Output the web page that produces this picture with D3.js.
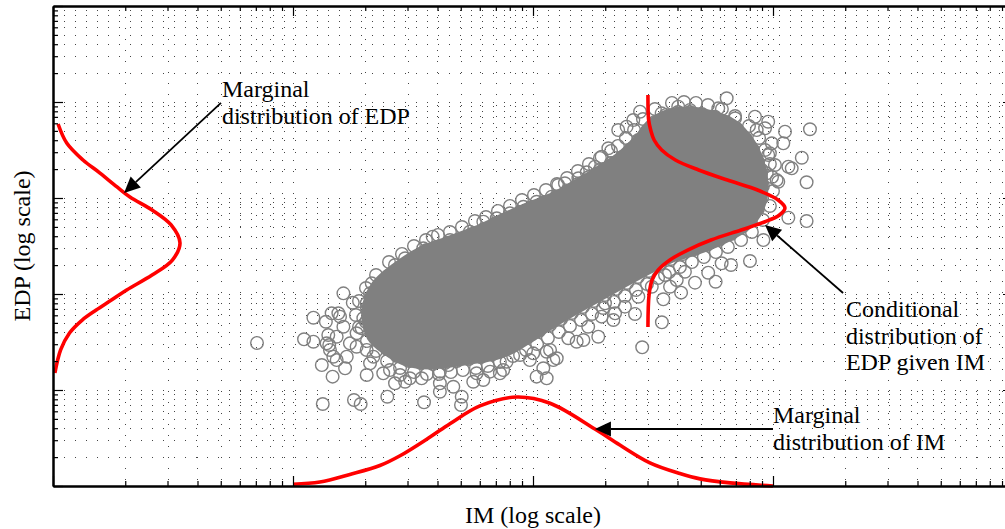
<!DOCTYPE html>
<html>
<head>
<meta charset="utf-8">
<script src="https://cdn.jsdelivr.net/npm/d3@7"></script>
<style>
  html, body { margin: 0; padding: 0; background: #fff; }
  svg { display: block; }
  text { font-family: "Liberation Serif", "Times New Roman", serif; font-size: 24px; fill: #000; }
</style>
</head>
<body>
<svg id="chart" width="1005" height="529"></svg>
<script>
// ---- Axis extents -------------------------------------------------------
const imDomain = [1e-3, 1e1];
const edpDomain = [1e-4, 1e1];

// ---- Simulated (IM, EDP) samples, log10 units --------------------------
// outer, isolated samples
const sampleLogIM = [
  -2.150, -1.790, -1.751, -1.915, -1.863, -1.811, -1.839, -1.804, -1.954, -1.915,
  -1.853, -1.849, -1.832, -1.880, -1.835, -1.783, -1.693, -1.624, -1.575, -1.533,
  -1.464, -1.388, -1.332, -1.297, -1.388, -1.249, -1.207, -1.138, -0.985, -0.943,
  -0.915, -1.876, -1.746, -1.718, -1.607, -1.454, -1.300, -0.957, -0.943, -1.513,
  -1.554, -1.596, -1.679, -1.693, -1.735, -1.776, -1.818, -1.846, -1.763, -1.735,
  -1.790, -1.818, -1.860, -1.714, -1.665, -1.388, -1.353, -1.235, -1.179, -1.110,
  -1.054, -0.999, -0.929, -1.013, -1.124, -1.533, -1.575, -1.672, -1.638, -1.679,
  -1.693, -1.707, -1.471, -1.443, -1.418, -1.346, -1.207, -1.151, -1.096, -1.040,
  -0.985, -0.922, -1.263, -1.457, -0.545, -0.463, -0.728, -0.575, -0.457, -0.383,
  -0.325, -0.239, -0.270, -0.175, -0.096, -0.214, -0.665, -0.658, -0.818, -0.853,
  -0.790, -0.617, -0.429, -0.401, -0.367, -0.193,  0.154,  0.120,  0.140,  0.140,
   0.064, -0.040, -0.103,  0.050,  0.043,  0.064,  0.022, -0.645, -0.610, -0.561,
  -0.686, -0.714, -0.742, -0.776, -0.811, -0.867, -0.895, -0.464, -0.395, -0.346,
  -0.228, -0.242, -0.158, -0.075, -0.020, -0.033, -0.005, -0.020,  0.008, -0.047,
  -0.075, -0.554, -0.582,  0.078, -0.013, -0.026,  0.015, -0.068, -0.901, -0.770,
  -0.714, -0.700, -0.561, -0.505, -0.450,
  // samples crowding the edge of the dense centre
  -1.696, -1.692, -1.671, -1.646, -1.604, -1.554, -1.504, -1.454, -1.404, -1.354,
  -1.304, -1.254, -1.204, -1.154, -1.104, -1.054, -1.004, -0.954, -0.904, -0.858,
  -0.813, -0.767, -0.721, -0.675, -0.629, -0.592, -0.554, -0.525, -0.492, -0.446,
  -0.396, -0.346, -0.296, -0.246, -0.196, -0.150, -0.113, -0.083, -0.063, -0.050,
  -0.042, -0.046, -0.063, -0.092, -0.129, -0.175, -0.225, -0.275, -0.325, -0.375,
  -0.425, -0.471, -0.517, -0.563, -0.608, -0.654, -0.700, -0.746, -0.792, -0.838,
  -0.883, -0.929, -0.975, -1.021, -1.067, -1.117, -1.167, -1.217, -1.267, -1.317,
  -1.367, -1.417, -1.467, -1.517, -1.567, -1.608, -1.642, -1.671,
  // samples just outside that edge
  -1.600, -1.546, -1.496, -1.446, -1.396, -1.346, -1.296, -1.242, -1.196, -1.146,
  -1.096, -1.046, -0.996, -0.946, -0.900, -0.858, -0.813, -0.767, -0.721, -0.675,
  -0.646, -0.613, -0.579, -0.542, -0.492, -0.421, -0.371, -0.321, -0.271, -0.213,
  -0.158, -0.100, -0.058, -0.033, -0.013, -0.004,  0.000, -0.013, -0.042, -0.088,
  -0.133, -0.188, -0.238, -0.288, -0.338, -0.388, -0.433, -0.479, -0.525, -0.571,
  -0.617, -0.663, -0.708, -0.754, -0.800, -0.846, -0.892, -0.938, -0.983, -1.029,
  -1.083, -1.138, -1.188, -1.238, -1.292, -1.342, -1.392, -1.442, -1.496, -1.554,
  -1.608, -1.654, -1.692, -1.725, -1.738, -1.725, -1.696, -1.654
];
const sampleLogEDP = [
  -2.510, -1.993, -2.091, -2.247, -2.289, -2.201, -2.201, -2.236, -2.472, -2.497,
  -2.427, -2.531, -2.653, -2.740, -2.861, -2.774, -2.844, -2.826, -2.930, -2.914,
  -2.878, -2.930, -2.966, -3.070, -3.018, -2.914, -2.896, -2.826, -2.861, -2.878,
  -2.688, -3.146, -3.104, -3.146, -3.070, -3.128, -3.156, -2.774, -2.601, -2.878,
  -2.844, -2.792, -2.722, -2.583, -2.549, -2.653, -2.688, -2.583, -2.514, -2.409,
  -2.341, -2.445, -2.514, -2.357, -2.653, -2.809, -2.740, -2.826, -2.809, -2.705,
  -2.635, -2.618, -2.583, -2.688, -2.792, -1.628, -1.698, -1.889, -1.924, -1.993,
  -2.097, -2.253, -1.594, -1.542, -1.403, -1.438, -1.247, -1.211, -1.159, -1.091,
  -1.039, -0.986, -1.351, -1.524, -2.555, -2.295, -2.445, -2.208, -2.055, -1.986,
  -1.882, -1.872, -1.778, -1.698, -1.656, -1.680, -2.271, -2.201, -2.497, -2.461,
  -2.479, -2.132, -1.924, -1.854, -1.768,  0.039, -0.284, -0.580, -0.836, -1.240,
  -1.205, -1.438, -1.211, -0.309, -0.430, -0.674, -0.830, -0.292, -0.257, -0.396,
  -0.482, -0.570, -0.674, -0.732, -0.795, -0.847, -0.865, -0.118, -0.049, -0.083,
  -0.066, -0.153, -0.170, -0.153, -0.205, -0.274, -0.430, -0.552, -0.656, -0.708,
  -0.865, -0.101, -0.188, -0.691, -0.534, -0.743, -0.813, -0.292, -2.670, -2.341,
  -2.236, -2.097, -2.028, -1.924, -1.802,
  -2.292, -2.146, -2.021, -1.917, -1.813, -1.729, -1.646, -1.563, -1.510, -1.469,
  -1.427, -1.375, -1.323, -1.260, -1.208, -1.146, -1.094, -1.042, -0.990, -0.927,
  -0.854, -0.781, -0.708, -0.635, -0.573, -0.490, -0.396, -0.302, -0.208, -0.135,
  -0.104, -0.104, -0.125, -0.156, -0.208, -0.281, -0.385, -0.500, -0.625, -0.750,
  -0.875, -1.000, -1.115, -1.219, -1.302, -1.375, -1.438, -1.490, -1.531, -1.583,
  -1.635, -1.698, -1.760, -1.823, -1.885, -1.948, -2.010, -2.073, -2.135, -2.198,
  -2.260, -2.323, -2.385, -2.448, -2.510, -2.573, -2.625, -2.656, -2.677, -2.698,
  -2.719, -2.729, -2.719, -2.698, -2.646, -2.573, -2.490, -2.396,
  -1.667, -1.583, -1.500, -1.438, -1.385, -1.354, -1.302, -1.240, -1.198, -1.135,
  -1.083, -1.021, -0.969, -0.917, -0.854, -0.792, -0.719, -0.646, -0.583, -0.510,
  -0.458, -0.375, -0.292, -0.177, -0.073, -0.010,  0.000, -0.010, -0.031, -0.073,
  -0.146, -0.250, -0.375, -0.500, -0.646, -0.781, -0.927, -1.083, -1.229, -1.354,
  -1.438, -1.510, -1.563, -1.615, -1.667, -1.719, -1.771, -1.833, -1.896, -1.958,
  -2.021, -2.083, -2.146, -2.208, -2.271, -2.333, -2.396, -2.458, -2.521, -2.583,
  -2.646, -2.708, -2.750, -2.771, -2.792, -2.813, -2.833, -2.833, -2.813, -2.771,
  -2.698, -2.594, -2.490, -2.344, -2.219, -2.073, -1.938, -1.802
];

// Outline of the dense centre of the sample cloud, log10 units
const coreLogIM = [
  -1.688, -1.679, -1.638, -1.575, -1.458, -1.358, -1.233, -1.108, -1.013, -0.908,
  -0.825, -0.729, -0.629, -0.563, -0.504, -0.442, -0.354, -0.254, -0.171, -0.104,
  -0.063, -0.046, -0.063, -0.117, -0.213, -0.325, -0.421, -0.521, -0.629, -0.771,
  -0.908, -1.013, -1.096, -1.179, -1.263, -1.346, -1.429, -1.525, -1.608, -1.667
];
const coreLogEDP = [
  -2.240, -2.063, -1.885, -1.750, -1.563, -1.469, -1.354, -1.208, -1.104, -1.000,
  -0.885, -0.740, -0.573, -0.417, -0.240, -0.146, -0.115, -0.156, -0.240, -0.417,
  -0.625, -0.865, -1.104, -1.281, -1.417, -1.531, -1.604, -1.729, -1.875, -2.073,
  -2.271, -2.438, -2.563, -2.635, -2.667, -2.698, -2.719, -2.688, -2.573, -2.438
];

// ---- Marginal distribution of IM (relative density) ---------------------
const imMargLogIM = [-2.000, -1.888, -1.763, -1.638, -1.554, -1.429, -1.346, -1.221,
  -1.067, -0.929, -0.742, -0.638, -0.513, -0.388, -0.304, -0.179, 0.000];
const imMargDensity = [0.02, 0.045, 0.13, 0.23, 0.34, 0.55, 0.70, 0.90,
  1.00, 0.93, 0.64, 0.46, 0.26, 0.14, 0.08, 0.035, 0.0];

// ---- Marginal distribution of EDP (relative density) --------------------
const edpMargLogEDP = [-0.229, -0.427, -0.604, -0.740, -0.885, -0.990, -1.125, -1.281,
  -1.469, -1.646, -1.802, -1.958, -2.063, -2.167, -2.271, -2.406, -2.583, -2.823];
const edpMargDensity = [0.04, 0.108, 0.236, 0.37, 0.504, 0.606, 0.78, 0.93,
  1.00, 0.94, 0.78, 0.58, 0.46, 0.34, 0.23, 0.13, 0.06, 0.015];

// ---- Conditional distribution of EDP given IM ---------------------------
const condLogIM = -0.521;
const condLogEDP = [0.073, -0.188, -0.292, -0.396, -0.500, -0.604, -0.708, -0.813,
  -0.917, -1.021, -1.104, -1.177, -1.250, -1.333, -1.438, -1.542, -1.646, -1.750,
  -1.854, -2.010, -2.344];
const condDensity = [0.0, 0.005, 0.02, 0.045, 0.10, 0.20, 0.37, 0.58,
  0.80, 0.95, 1.00, 0.96, 0.85, 0.68, 0.46, 0.29, 0.16, 0.075,
  0.03, 0.008, 0.0];

// ---- Layout ---------------------------------------------------------------
const svg = d3.select("#chart");
const plotLeft = 53, plotTop = 6, plotW = 960, plotH = 480;
const x = d3.scaleLog().domain(imDomain).range([plotLeft, plotLeft + plotW]);
const y = d3.scaleLog().domain(edpDomain).range([plotTop + plotH, plotTop]);

const isDecade = d => Math.abs(Math.log10(d) - Math.round(Math.log10(d))) < 1e-9;
const xTicks = x.ticks();
const yTicks = y.ticks();

svg.append("rect").attr("width", 1005).attr("height", 529).attr("fill", "#fff");

// Dotted grid at every major and minor tick
const grid = svg.append("g")
  .attr("stroke", "#444").attr("stroke-width", 1)
  .attr("stroke-dasharray", "1,10").attr("shape-rendering", "crispEdges");
grid.selectAll("line.gx").data(xTicks).join("line").attr("class", "gx")
  .attr("x1", d => Math.round(x(d)) + 0.5).attr("x2", d => Math.round(x(d)) + 0.5)
  .attr("y1", plotTop).attr("y2", plotTop + plotH);
grid.selectAll("line.gy").data(yTicks).join("line").attr("class", "gy")
  .attr("y1", d => Math.round(y(d)) + 0.5).attr("y2", d => Math.round(y(d)) + 0.5)
  .attr("x1", plotLeft).attr("x2", plotLeft + plotW);

// Sample cloud: dense centre (markers overlap into a solid mass), then markers
const grey = "#808080";
const corePts = coreLogIM.map((v, i) => [x(10 ** v), y(10 ** coreLogEDP[i])]);
svg.append("path")
  .attr("d", d3.line().curve(d3.curveCatmullRomClosed)(corePts))
  .attr("fill", grey).attr("stroke", grey).attr("stroke-width", 13)
  .attr("stroke-linejoin", "round");

svg.append("g").selectAll("circle")
  .data(sampleLogIM.map((v, i) => ({ im: 10 ** v, edp: 10 ** sampleLogEDP[i] })))
  .join("circle")
  .attr("cx", d => x(d.im)).attr("cy", d => y(d.edp)).attr("r", 6.3)
  .attr("fill", "none").attr("stroke", grey).attr("stroke-width", 1.4);

// Density curves
const red = "#ff0000";
const imDens = d3.scaleLinear().domain([0, 1]).range([plotTop + plotH, plotTop + plotH - 89]);
svg.append("path")
  .attr("d", d3.line().curve(d3.curveCatmullRom)
    .x((v) => x(10 ** v)).y((v, i) => imDens(imMargDensity[i]))(imMargLogIM))
  .attr("fill", "none").attr("stroke", red).attr("stroke-width", 3.6);

const edpDens = d3.scaleLinear().domain([0, 1]).range([plotLeft, plotLeft + 127]);
svg.append("path")
  .attr("d", d3.line().curve(d3.curveCatmullRom)
    .x((v, i) => edpDens(edpMargDensity[i])).y(v => y(10 ** v))(edpMargLogEDP))
  .attr("fill", "none").attr("stroke", red).attr("stroke-width", 3.6);

const condBase = x(10 ** condLogIM);
const condDens = d3.scaleLinear().domain([0, 1]).range([condBase, condBase + 137]);
svg.append("path")
  .attr("d", d3.line().curve(d3.curveCatmullRom)
    .x((v, i) => condDens(condDensity[i])).y(v => y(10 ** v))(condLogEDP))
  .attr("fill", "none").attr("stroke", red).attr("stroke-width", 3.6);

// Axes: box with inward major and minor ticks, no labels
function drawAxis(axisFn, scale, transform) {
  const major = scale.ticks().filter(isDecade);
  const minor = scale.ticks().filter(d => !isDecade(d));
  const g = svg.append("g").attr("transform", transform);
  g.call(axisFn(scale).tickValues(minor).tickSizeInner(-5).tickSizeOuter(0).tickFormat(() => ""));
  const g2 = svg.append("g").attr("transform", transform);
  g2.call(axisFn(scale).tickValues(major).tickSizeInner(-10).tickSizeOuter(0).tickFormat(() => ""));
  [g, g2].forEach(s => {
    s.selectAll(".tick line").attr("stroke", "#000").attr("stroke-width", 1.2);
    s.select(".domain").attr("stroke", "#000").attr("stroke-width", 2);
  });
}
drawAxis(d3.axisBottom, x, `translate(0,${plotTop + plotH})`);
drawAxis(d3.axisTop, x, `translate(0,${plotTop})`);
drawAxis(d3.axisLeft, y, `translate(${plotLeft},0)`);
drawAxis(d3.axisRight, y, `translate(${plotLeft + plotW},0)`);

// Axis titles
svg.append("text").attr("x", plotLeft + plotW / 2).attr("y", 523)
  .attr("text-anchor", "middle").text("IM (log scale)");
svg.append("text")
  .attr("transform", `translate(29.5,${plotTop + plotH / 2}) rotate(-90)`)
  .attr("text-anchor", "middle").text("EDP (log scale)");

// Annotations (anchor points in log10 data units)
const notes = [
  { lines: ["Marginal", "distribution of EDP"], tx: -2.296, ty: 0.052,
    from: [-2.300, -0.010], tip: [-2.704, -0.948] },
  { lines: ["Conditional", "distribution of", "EDP given IM"], tx: 0.304, ty: -2.240,
    from: [0.292, -1.990], tip: [-0.033, -1.281] },
  { lines: ["Marginal", "distribution of IM"], tx: 0.000, ty: -3.344,
    from: [0.000, -3.406], tip: [-0.742, -3.406] }
];
const lineGap = 26.5;
notes.forEach(n => {
  const t = svg.append("text").attr("x", x(10 ** n.tx)).attr("y", y(10 ** n.ty));
  n.lines.forEach((s, i) => {
    t.append("tspan").attr("x", x(10 ** n.tx)).attr("dy", i === 0 ? 0 : lineGap).text(s);
  });
  const x0 = x(10 ** n.from[0]), y0 = y(10 ** n.from[1]);
  const x1 = x(10 ** n.tip[0]), y1 = y(10 ** n.tip[1]);
  const a = Math.atan2(y1 - y0, x1 - x0);
  const L = 16, hw = 7.5;
  const bx = x1 - L * Math.cos(a), by = y1 - L * Math.sin(a);
  svg.append("line").attr("x1", x0).attr("y1", y0).attr("x2", bx).attr("y2", by)
    .attr("stroke", "#000").attr("stroke-width", 1.8);
  const px = -Math.sin(a) * hw, py = Math.cos(a) * hw;
  svg.append("path")
    .attr("d", `M${x1},${y1}L${bx + px},${by + py}L${bx - px},${by - py}Z`)
    .attr("fill", "#000");
});
</script>
</body>
</html>
